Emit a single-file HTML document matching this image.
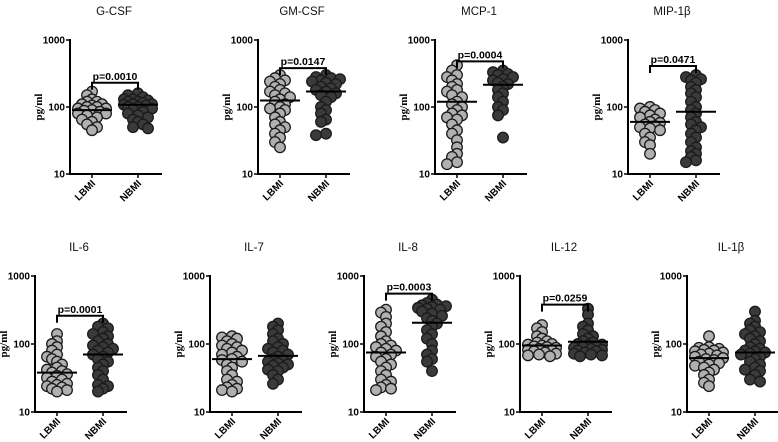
<!DOCTYPE html>
<html><head><meta charset="utf-8"><style>
html,body{margin:0;padding:0;background:#fff;}
svg{display:block;font-family:"Liberation Sans",sans-serif;}
</style></head><body>
<svg id="chart" width="778" height="442" viewBox="0 0 778 442"></svg>
<script>
const panelNames = ["G-CSF","GM-CSF","MCP-1","MIP-1β","IL-6","IL-7","IL-8","IL-12","IL-1β"];
const categories = ["LBMI","NBMI"];
const yTicks = [10,100,1000];
const yTickLabels = ["10","100","1000"];
const lbmiValues = [
 [170,150,130,120,110,100,95,90,85,80,75,70,65,60,55,50,45,100,95,88,80,120,110,105],
 [300,270,250,240,220,200,180,170,160,150,140,130,120,110,100,95,90,80,70,60,55,50,45,40,35,30,25],
 [420,350,300,280,250,220,200,180,170,150,140,120,110,100,90,80,75,70,65,55,45,40,32,25,20,18,15,14],
 [100,95,90,85,80,75,70,65,60,58,55,52,50,48,45,40,35,30,27,20],
 [140,110,100,90,80,70,65,60,55,50,45,42,40,38,36,34,32,30,28,26,25,24,23,22,21,20],
 [130,125,120,110,100,95,90,85,80,75,70,65,60,58,55,50,45,40,35,30,28,25,23,22,21,20],
 [320,290,250,200,180,150,130,110,100,95,90,85,80,75,70,65,60,55,50,45,40,35,30,28,25,23,22,21],
 [190,170,150,130,120,110,105,100,98,95,92,90,88,85,82,80,78,75,72,70,68,66],
 [130,90,88,85,82,80,78,75,72,70,68,65,62,60,58,55,52,50,48,45,42,38,35,30,27,24]
];
const nbmiValues = [
 [160,150,140,130,125,120,115,110,108,105,100,95,90,85,80,75,70,65,60,55,50,48,130,120,110,100],
 [300,280,270,260,250,240,230,220,200,190,180,170,160,150,140,120,100,90,80,65,60,40,38],
 [350,330,310,300,280,260,250,230,220,200,180,160,140,120,100,90,75,35],
 [300,280,260,250,230,200,180,160,140,120,100,90,80,70,60,55,50,45,40,35,30,25,22,20,18,16,15],
 [200,180,170,150,140,130,120,110,100,95,90,85,80,75,70,65,60,55,50,45,40,35,30,25,24,22,20],
 [200,180,160,140,120,110,100,90,85,80,75,70,65,60,58,55,52,50,48,45,42,40,35,30,26],
 [450,400,380,370,360,350,340,330,320,300,280,260,240,220,200,180,160,140,120,100,80,70,60,55,40],
 [330,270,200,180,160,140,130,120,110,105,100,98,95,92,90,88,85,82,80,78,75,72,70,68,66],
 [300,220,200,180,160,150,140,130,120,110,100,90,85,80,78,75,72,70,65,60,55,50,45,42,40,35,30,28]
];
const lbmiMeans = [90,125,120,60,38,60,75,95,62];
const nbmiMeans = [108,170,215,85,70,67,205,108,75];
const pValues = ["p=0.0010","p=0.0147","p=0.0004","p=0.0471","p=0.0001","","p=0.0003","p=0.0259",""];
const bracketLevels = [230,380,480,410,260,null,550,380,null];

const NS = "http://www.w3.org/2000/svg";
const svg = document.getElementById("chart");
function mk(tag, attrs, parent){const e=document.createElementNS(NS,tag);for(const k in attrs)e.setAttribute(k,attrs[k]);(parent||svg).appendChild(e);return e;}

const axisX = [70,258,435,628,35,210,364,520,687];
const rowTop = [40,40,40,40,276,276,276,276,276];
const rowBot = [174,174,174,174,412,412,412,412,412];

for(let p=0;p<9;p++){
  const ax=axisX[p], top=rowTop[p], bot=rowBot[p];
  const g=mk("g",{});
  
  
  const y = v => bot - (Math.log10(v)-1)/2*(bot-top);
  const xc = [ax+22, ax+68];
  const t=mk("text",{x:ax+44,y:top-25,"text-anchor":"middle","font-size":"11.5",fill:"#111"},g);
  t.textContent=panelNames[p];
  
  
  const ya=mk("line",{x1:ax,y1:top-1,x2:ax,y2:bot+1,stroke:"#000","stroke-width":2},g);
  
  
  const xa=mk("line",{x1:ax-1,y1:bot,x2:ax+92,y2:bot,stroke:"#000","stroke-width":2},g);
  
  
  yTicks.forEach((tv,i)=>{
    mk("line",{x1:ax-4,y1:y(tv),x2:ax,y2:y(tv),stroke:"#000","stroke-width":1.5},g);
    const tl=mk("text",{x:ax-5,y:y(tv)+3.5,"text-anchor":"end","font-size":"10","font-weight":"bold"},g);
    tl.textContent=yTickLabels[i];
    
    
  });
  const yl=mk("text",{x:0,y:0,"text-anchor":"middle","font-size":"11","font-weight":"bold","font-family":"Liberation Serif, serif",transform:`translate(${ax-28},${(top+bot)/2}) rotate(-90)`},g);
  yl.textContent="pg/ml";
  
  
  categories.forEach((c,i)=>{
    mk("line",{x1:xc[i],y1:bot,x2:xc[i],y2:bot+4,stroke:"#000","stroke-width":1.5},g);
    const cl=mk("text",{x:0,y:0,"text-anchor":"end","font-size":"10","font-weight":"bold",transform:`translate(${xc[i]+4},${bot+10}) rotate(-45)`},g);
    cl.textContent=c;
    
    
  });
  [lbmiValues[p], nbmiValues[p]].forEach((vals,gi)=>{
    const placed=[];
    const sorted=vals.map(v=>v).sort((a,b)=>b-a);
    sorted.forEach((v,k)=>{
      const py=y(v);
      const offs=[0,-5,5,-10,10,-14,14,-3,3,-8,8,-12,12];
      let best=0,bestO=1e9;
      for(const o of offs){let ov=0;for(const q of placed){const d=Math.hypot(q[0]-o,q[1]-py);if(d<5.5)ov+=5.5-d;}if(ov<bestO-0.01){bestO=ov;best=o;}if(ov===0)break;}
      placed.push([best,py]);
      const c=mk("circle",{cx:xc[gi]+best,cy:py,r:5.3,fill:gi?"#3a3a3a":"#b0b0b0",stroke:"#1a1a1a","stroke-width":1.3},g);
      
      
    });
  });
  [lbmiMeans[p], nbmiMeans[p]].forEach((m,gi)=>{
    const ml=mk("line",{x1:xc[gi]-20,y1:y(m),x2:xc[gi]+20,y2:y(m),stroke:"#000","stroke-width":2},g);
    
    
  });
  if(bracketLevels[p]){
    const by=y(bracketLevels[p]);
    const br=mk("path",{d:`M${xc[0]},${by+7}V${by}H${xc[1]}V${by+7}`,fill:"none",stroke:"#000","stroke-width":2},g);
    
    
    const pt=mk("text",{x:(xc[0]+xc[1])/2,y:by-3,"text-anchor":"middle","font-size":"10.5","font-weight":"bold"},g);
    pt.textContent=pValues[p];
    
    
  }
}
</script>
</body></html>
